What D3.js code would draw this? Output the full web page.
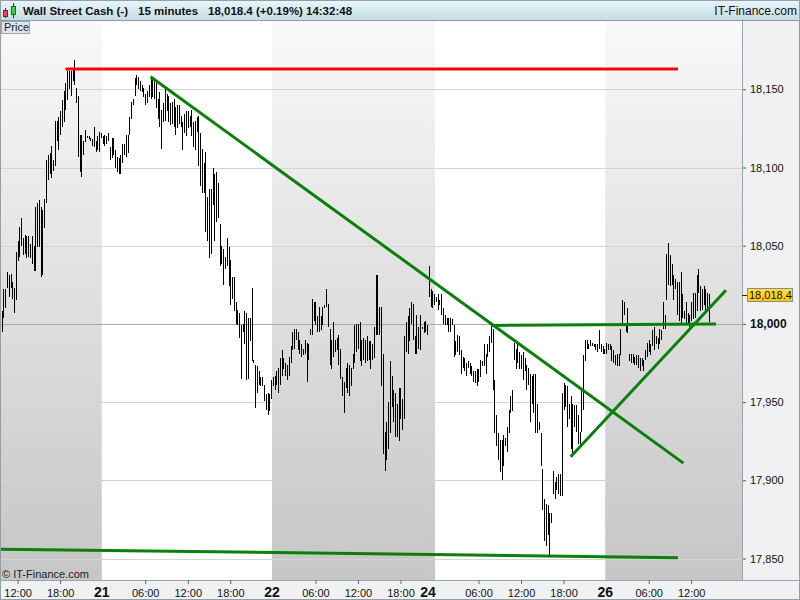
<!DOCTYPE html>
<html><head><meta charset="utf-8">
<script src="https://cdn.jsdelivr.net/npm/d3@7"></script>
<style>body{margin:0;background:#fff}svg{display:block}text{font-family:Arial,"Liberation Sans",sans-serif}</style>
</head><body><svg id="c" width="800" height="600"></svg>
<script>
// ---------------- data ----------------
const instrument = "Wall Street Cash (-)";
const period = "15 minutes";
const lastQuote = "18,018.4 (+0.19%)";
const quoteTime = "14:32:48";
const brand = "IT-Finance.com";
const copyright = "\u00a9 IT-Finance.com";
const lastPrice = 18018.4;
const lastPriceLabel = "18,018.4";
const yTicks = [17850, 17900, 17950, 18000, 18050, 18100, 18150];
const hourTicks = ["20 12:00","20 18:00","21 06:00","21 12:00","21 18:00","22 06:00","22 12:00","22 18:00","25 06:00","25 12:00","25 18:00","26 06:00","26 12:00"];
const dayTicks = [["21 00:00","21"],["22 00:00","22"],["24 23:00","24"],["26 00:00","26"]];
const dayBands = [["20 00:00","21 00:00",20],["21 00:00","22 00:00",21],["22 00:00","24 23:00",22],["24 23:00","25 00:00",24],["25 00:00","26 00:00",25],["26 00:00","26 23:59",26]];
const segmentStarts = ["20 09:30","21 00:00","22 00:00","24 23:00","26 00:00"];
// [high, low] of each 15-minute bar
const bars20 = [[18006,17997],[18008,17995],[18022,18004],[18022,18010],[18033,18023],[18031,18017],[18032,18023],[18027,18016],[18023,18007],[18046,18015],
[18053,18040],[18062,18043],[18068,18050],[18055,18044],[18057,18045],[18056,18042],[18056,18043],[18051,18042],[18056,18038],[18050,18034],
[18075,18034],[18077,18049],[18079,18049],[18075,18030],[18073,18031],[18080,18061],[18105,18077],[18108,18092],[18109,18096],[18114,18093],
[18105,18098],[18130,18101],[18130,18117],[18132,18111],[18136,18121],[18143,18126],[18149,18129],[18154,18137],[18162,18143],[18162,18150],
[18162,18146],[18163,18155],[18169,18153],[18151,18141],[18146,18107],[18121,18097],[18121,18094],[18117,18108],[18124,18116],[18120,18119],
[18120,18118],[18119,18117],[18118,18114],[18126,18113],[18117,18110],[18120,18111],[18123,18110],[18122,18119]];
const bars21 = [[18120,18115],[18121,18114],[18120,18115],[18122,18117],[18113,18105],[18119,18106],[18119,18108],[18111,18100],[18107,18097],[18106,18096],
[18108,18096],[18115,18103],[18115,18108],[18121,18107],[18121,18109],[18132,18121],[18142,18131],[18144,18140],[18157,18146],[18159,18153],
[18158,18150],[18155,18149],[18153,18148],[18151,18145],[18147,18140],[18149,18141],[18153,18145],[18158,18144],[18157,18145],[18156,18144],
[18154,18138],[18144,18131],[18148,18126],[18137,18112],[18141,18129],[18150,18130],[18147,18136],[18146,18129],[18141,18127],[18142,18128],
[18144,18126],[18139,18121],[18140,18125],[18140,18128],[18133,18126],[18129,18111],[18134,18122],[18136,18120],[18136,18125],[18133,18126],
[18137,18120],[18129,18113],[18130,18111],[18132,18123],[18133,18101],[18122,18088],[18112,18084],[18103,18084],[18110,18059],[18081,18053],
[18086,18042],[18086,18045],[18100,18076],[18096,18053],[18097,18065],[18090,18068],[18064,18037],[18050,18038],[18048,18025],[18043,18035],
[18055,18037],[18049,18024],[18041,18012],[18030,18016],[18030,18008],[18014,18000],[18009,17999],[18007,17991],[17999,17965],[18000,17995],
[18008,17987],[18007,17964],[18004,17965],[18004,17989],[18023,17976],[17977,17975],[17974,17946],[17973,17956],[17970,17961],[17966,17960],
[17966,17960],[17961,17951],[17955,17945],[17956,17942],[17955,17944],[17964,17952]];
const bars22 = [[17966,17960],[17967,17958],[17970,17961],[17972,17956],[17978,17961],[17983,17967],[17978,17971],[17975,17967],[17974,17964],[17979,17967],
[17986,17975],[17995,17983],[17997,17984],[17997,17990],[17995,17983],[17990,17981],[17987,17979],[17984,17980],[17990,17981],[17988,17963],
[17987,17977],[17997,17993],[18016,17993],[18014,18002],[18014,17999],[18005,17995],[18011,17995],[18005,17996],[18011,17999],[18012,18010],
[18022,18011],[18013,17998],[17997,17974],[17990,17971],[18001,17979],[17990,17982],[17991,17983],[17993,17974],[17984,17965],[17966,17954],
[17963,17943],[17972,17959],[17975,17956],[17974,17954],[17972,17960],[17981,17971],[17999,17975],[18000,17982],[18000,17984],[18001,17976],
[17990,17973],[17991,17977],[17990,17975],[17992,17976],[17989,17977],[17989,17971],[17987,17977],[17998,17978],[18031,17993],[18031,17993],
[18011,17993],[18011,17960],[17981,17917],[17931,17906],[17937,17913],[17950,17920],[17976,17930],[17967,17947],[17958,17937],[17956,17928],
[17949,17928],[17959,17925],[17959,17939],[17952,17932],[17992,17939],[18001,17982],[18005,17981],[18010,17989],[18014,18000],[18013,17990],
[17992,17981],[18006,17981],[17998,17984],[18006,17983],[17998,17997],[18001,17994],[18002,17995],[17999,17993]];
const bars24 = [[18037,18017],[18022,18011],[18021,18010],[18019,18012],[18017,18014],[18019,18009],[18015,18012],[18019,18006],[18010,18000],[18006,17999],
[18004,17999],[18004,17995],[18004,17995],[18003,17999],[17999,17979],[17989,17980],[17993,17982],[17992,17980],[17983,17968],[17979,17972],
[17978,17970],[17975,17967],[17976,17972],[17975,17968],[17973,17967],[17970,17963],[17970,17962],[17971,17960],[17971,17963],[17977,17966],
[17976,17973],[17987,17973],[17981,17968],[17987,17979],[17992,17982],[17998,17988],[17997,17958],[17964,17930],[17942,17922],[17930,17913],
[17926,17905],[17926,17900],[17929,17909],[17927,17922],[17934,17918],[17945,17930],[17954,17943],[17958,17944],[17988,17977],[17984,17971],
[17987,17975],[17982,17971],[17980,17971],[17982,17964],[17978,17970],[17974,17958],[17972,17961],[17968,17937],[17967,17949],[17968,17943],
[17968,17930],[17949,17930],[17937,17932],[17930,17909],[17907,17881],[17888,17861],[17885,17858],[17884,17865],[17879,17852],[17879,17873],
[17906,17891],[17899,17888],[17902,17894],[17904,17891],[17904,17890],[17956,17890],[17962,17945],[17961,17947],[17960,17934],[17949,17939],
[17954,17920],[17949,17915],[17948,17934],[17948,17931],[17942,17923],[17931,17921],[17957,17931],[17980,17945],[17990,17976],[17990,17984],
[17987,17984],[17990,17986],[17988,17986],[17987,17985],[17987,17983],[17987,17982],[17996,17984],[17987,17982],[17986,17981],[17984,17981]];
const bars26 = [[17988,17981],[17987,17983],[17987,17983],[17986,17976],[17983,17975],[17980,17974],[17981,17973],[17981,17973],[17997,17980],[18015,17999],
[18014,18006],[17999,17995],[18010,17994],[17981,17976],[17981,17975],[17981,17975],[17979,17974],[17980,17974],[17980,17972],[17978,17970],
[17978,17973],[17977,17970],[17983,17977],[17988,17979],[17990,17982],[17987,17980],[17996,17986],[17998,17983],[17992,17987],[17991,17984],
[17997,17987],[17996,17990],[18014,17997],[18006,17997],[18045,18015],[18052,18025],[18044,18024],[18038,18025],[18031,18015],[18029,18022],
[18027,18006],[18027,18002],[18033,17999],[18019,18004],[18008,18003],[18014,18000],[18007,17999],[18006,17998],[18014,18002],[18020,18003],
[18020,18004],[18031,18008],[18035,18020],[18024,18008],[18022,18009],[18024,18012],[18022,18007],[18020,18010],[18019,18001]];
const segments = [bars20, bars21, bars22, bars24, bars26];
// trend lines: [startTime, startPrice, endTime, endPrice, colour]
const trendLines = [
  ["20 18:45", 18163, "26 10:08", 18163, "#ff0000"],
  ["21 06:45", 18158, "26 10:54", 17911, "#0a800a"],
  ["25 07:45", 17999, "26 15:30", 18000, "#0a800a"],
  ["25 19:00", 17915, "26 16:54", 18021.5, "#0a800a"],
  ["20 09:30", 17856, "26 10:08", 17850.5, "#0a800a"]
];

// ---------------- helpers ----------------
function slot(s){ // 15-minute slots, weekend gap removed
  const [d, hm] = s.split(" "); const [h, m] = hm.split(":").map(Number);
  let v = (+d - 20) * 96 + h * 4 + m / 15;
  if (+d >= 24) v -= 196;
  return v;
}
const W = 800, H = 600, plotL = 1, plotR = 742, plotT = 21, plotB = 580;
const x = d3.scaleLinear().domain([slot("20 12:00"), slot("26 12:00")]).range([17.6, 691.2]);
const y = d3.scaleLinear().domain([17850, 18150]).range([558.5, 89.3]);

const svg = d3.select("#c");
const defs = svg.append("defs");
const gg = defs.append("linearGradient").attr("id","gband").attr("x1",0).attr("y1",0).attr("x2",0).attr("y2",1);
gg.append("stop").attr("offset","0%").attr("stop-color","#f9f9f9");
gg.append("stop").attr("offset","100%").attr("stop-color","#c6c6c6");
const hg = defs.append("linearGradient").attr("id","ghead").attr("x1",0).attr("y1",0).attr("x2",0).attr("y2",1);
hg.append("stop").attr("offset","0%").attr("stop-color","#e8f7fc");
hg.append("stop").attr("offset","100%").attr("stop-color","#c6dce4");
const yg = defs.append("linearGradient").attr("id","gyel").attr("x1",0).attr("y1",0).attr("x2",0).attr("y2",1);
yg.append("stop").attr("offset","0%").attr("stop-color","#ffe04a");
yg.append("stop").attr("offset","100%").attr("stop-color","#ffc400");
defs.append("clipPath").attr("id","clip").append("rect")
  .attr("x",plotL).attr("y",plotT).attr("width",plotR-plotL).attr("height",plotB-plotT);

// backgrounds
svg.append("rect").attr("width",W).attr("height",H).attr("fill","#eff1f3");
svg.append("rect").attr("x",plotL).attr("y",plotT).attr("width",plotR-plotL).attr("height",plotB-plotT).attr("fill","#fff");

const plot = svg.append("g").attr("clip-path","url(#clip)");
plot.selectAll("rect.band").data(dayBands.filter(b => b[2] % 2 === 0)).join("rect")
  .attr("x", b => x(slot(b[0]) - 0.5)).attr("width", b => x(slot(b[1]) - 0.5) - x(slot(b[0]) - 0.5))
  .attr("y", plotT).attr("height", plotB - plotT).attr("fill","url(#gband)");

// gridlines
plot.selectAll("line.grid").data(yTicks).join("line")
  .attr("x1",plotL).attr("x2",plotR)
  .attr("y1", d => Math.round(y(d)) + 0.5).attr("y2", d => Math.round(y(d)) + 0.5)
  .attr("stroke", d => d === 18000 ? "#a8a8a8" : "#d4d4d4").attr("stroke-width",1);

// bars
const allBars = [];
segments.forEach((seg, si) => {
  const s0 = slot(segmentStarts[si]);
  seg.forEach((b, i) => allBars.push({t: s0 + i, hi: b[0], lo: b[1]}));
});
plot.selectAll("line.bar").data(allBars).join("line")
  .attr("x1", d => Math.round(x(d.t)) + 0.5).attr("x2", d => Math.round(x(d.t)) + 0.5)
  .attr("y1", d => Math.round(y(d.hi))).attr("y2", d => Math.max(Math.round(y(d.lo)), Math.round(y(d.hi)) + 1))
  .attr("stroke","#000").attr("stroke-width",1).attr("shape-rendering","crispEdges");

// trend lines
plot.selectAll("line.trend").data(trendLines).join("line")
  .attr("x1", d => x(slot(d[0]))).attr("y1", d => y(d[1]))
  .attr("x2", d => x(slot(d[2]))).attr("y2", d => y(d[3]))
  .attr("stroke", d => d[4]).attr("stroke-width",3);

plot.append("text").attr("x",2).attr("y",578).attr("font-size",11).attr("fill","#222").text(copyright);

// right axis
svg.append("rect").attr("x",plotR).attr("y",plotT).attr("width",W-plotR).attr("height",plotB-plotT).attr("fill","#eff1f3");
const yAxis = svg.append("g").attr("transform",`translate(${plotR},0)`)
  .call(d3.axisRight(y).tickValues(yTicks).tickSize(4).tickPadding(4).tickFormat(d3.format(",")));
yAxis.select(".domain").remove();
yAxis.selectAll(".tick line").attr("stroke","#555");
yAxis.selectAll(".tick text").attr("font-size",11).attr("fill","#111").attr("font-family","Arial,'Liberation Sans',sans-serif")
  .attr("font-weight", d => d === 18000 ? "bold" : "normal").attr("font-size", d => d === 18000 ? 12 : 11);
svg.append("line").attr("x1",plotR+0.5).attr("x2",plotR+0.5).attr("y1",plotT).attr("y2",plotB).attr("stroke","#98a3ac");

// last price marker
const lpY = Math.round(y(lastPrice));
svg.append("line").attr("x1",plotR).attr("x2",plotR+5).attr("y1",lpY+0.5).attr("y2",lpY+0.5).attr("stroke","#222");
svg.append("rect").attr("x",747.5).attr("y",lpY-6.5).attr("width",45).attr("height",13)
  .attr("fill","url(#gyel)").attr("stroke","#8c8c8c");
svg.append("text").attr("x",749).attr("y",lpY+4).attr("font-size",11).attr("fill","#111").text(lastPriceLabel);

// bottom axis
svg.append("rect").attr("x",0).attr("y",plotB).attr("width",W).attr("height",H-plotB).attr("fill","#eff1f3");
svg.append("line").attr("x1",0).attr("x2",W).attr("y1",plotB+0.5).attr("y2",plotB+0.5).attr("stroke","#98a3ac");
const hourLabel = s => s.split(" ")[1];
const xAxis = svg.append("g").attr("transform",`translate(0,${plotB})`)
  .call(d3.axisBottom(x).tickValues(hourTicks.map(slot)).tickSize(4).tickPadding(5)
    .tickFormat((d, i) => hourLabel(hourTicks[i])));
xAxis.select(".domain").remove();
xAxis.selectAll(".tick line").attr("stroke","#666");
xAxis.selectAll(".tick text").attr("font-size",11).attr("fill","#111").attr("font-family","Arial,'Liberation Sans',sans-serif");
svg.selectAll("text.day").data(dayTicks).join("text").attr("class","day")
  .attr("x", d => x(slot(d[0]) - 0.5)).attr("y",597).attr("text-anchor","middle")
  .attr("font-size",14).attr("font-weight","bold").attr("fill","#111").text(d => d[1]);

// header
svg.append("rect").attr("x",0).attr("y",0).attr("width",W).attr("height",20).attr("fill","url(#ghead)");
svg.append("line").attr("x1",0).attr("x2",W).attr("y1",20.5).attr("y2",20.5).attr("stroke","#8f9aa3");
// icon
svg.append("line").attr("x1",5.5).attr("x2",5.5).attr("y1",8).attr("y2",18).attr("stroke","#333");
svg.append("rect").attr("x",3.5).attr("y",10.5).attr("width",4).attr("height",6).attr("fill","#e8474a").attr("stroke","#7a2a2a");
svg.append("line").attr("x1",13.5).attr("x2",13.5).attr("y1",3).attr("y2",18).attr("stroke","#333");
svg.append("rect").attr("x",11.5).attr("y",6.5).attr("width",4).attr("height",8).attr("fill","#3cd23c").attr("stroke","#1f6b1f");
const head = [[23, instrument],[138, period],[208, lastQuote],[306, quoteTime]];
svg.selectAll("text.head").data(head).join("text").attr("class","head")
  .attr("x", d => d[0]).attr("y",15).attr("font-size",11.5).attr("font-weight","bold").attr("fill","#111").text(d => d[1]);
svg.append("text").attr("x",797).attr("y",15).attr("text-anchor","end").attr("font-size",12).attr("fill","#111").text(brand);

// "Price" tag
svg.append("rect").attr("x",1.5).attr("y",21.5).attr("width",28).attr("height",12).attr("fill","#dde5ea").attr("stroke","#9aa6af");
svg.append("text").attr("x",4).attr("y",31).attr("font-size",11).attr("fill","#222").text("Price");

// frame
svg.append("rect").attr("x",0.5).attr("y",0.5).attr("width",W-1).attr("height",H-1).attr("fill","none").attr("stroke","#939ea7");
</script></body></html>
